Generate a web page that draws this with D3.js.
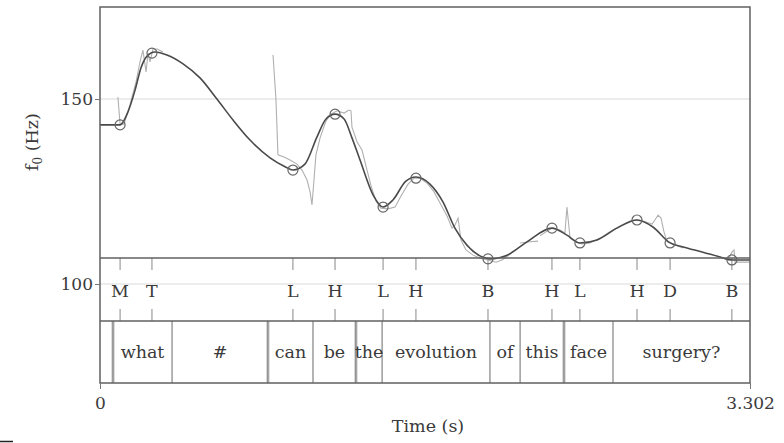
<!DOCTYPE html>
<html>
<head>
<meta charset="utf-8">
<script src="https://cdn.jsdelivr.net/npm/d3@7/dist/d3.min.js"></script>
<style>
  html, body { margin: 0; padding: 0; background: #fff; }
  svg { display: block; }
  text { font-family: "DejaVu Serif", "Liberation Serif", serif; fill: #3a3a3a; }
</style>
</head>
<body>
<svg id="chart" width="784" height="443"></svg>
<script>
// Stylised f0 contour (time in s, f0 in Hz)
const contourTime = [0, 0.051, 0.102, 0.142, 0.178, 0.208, 0.239, 0.279, 0.340, 0.422, 0.508, 0.594, 0.676, 0.762, 0.864, 0.940, 0.980, 1.041, 1.102, 1.148, 1.194, 1.240, 1.280, 1.321, 1.387, 1.438, 1.488, 1.554, 1.605, 1.676, 1.742, 1.803, 1.864, 1.930, 1.981, 2.068, 2.169, 2.296, 2.372, 2.438, 2.525, 2.626, 2.728, 2.809, 2.896, 2.962, 3.063, 3.150, 3.210, 3.302];
const contourHz   = [143.0, 143.0, 143.0, 146.5, 152.4, 158.4, 161.6, 162.7, 161.9, 159.5, 155.7, 150.0, 144.3, 138.9, 134.1, 131.7, 130.8, 132.4, 139.7, 144.6, 145.9, 144.6, 139.5, 133.5, 124.1, 120.8, 122.7, 127.8, 128.9, 127.0, 122.2, 115.1, 110.5, 107.6, 106.8, 107.8, 111.4, 115.1, 113.2, 111.1, 111.9, 115.1, 117.3, 115.4, 111.1, 110.0, 108.6, 107.3, 106.5, 106.5];

// Measured f0 track, one array per voiced stretch
const rawTime = [
  [0.091, 0.102, 0.122, 0.152, 0.183, 0.203, 0.218, 0.234, 0.244, 0.254, 0.269, 0.290, 0.320],
  [0.879, 0.894, 0.904, 0.935, 0.965, 1.001, 1.026, 1.052, 1.067, 1.077, 1.087, 1.097, 1.118, 1.148, 1.173, 1.204, 1.240, 1.265, 1.275, 1.280, 1.306, 1.331, 1.351, 1.377, 1.402, 1.427, 1.463, 1.499, 1.529, 1.565, 1.595, 1.626, 1.661, 1.697, 1.732, 1.763, 1.788, 1.803, 1.819, 1.834, 1.859, 1.895, 1.930, 1.971, 2.012, 2.042, 2.073, 2.098],
  [2.134, 2.184, 2.225],
  [2.235, 2.266, 2.296, 2.337, 2.362, 2.372, 2.388, 2.418, 2.449, 2.489, 2.540, 2.591, 2.642, 2.692, 2.733, 2.769, 2.804, 2.819, 2.835, 2.850, 2.865, 2.880, 2.911, 2.962],
  [3.150, 3.190, 3.210, 3.221, 3.226, 3.302]
];
const rawHz = [
  [150.5, 143.2, 143.2, 148.4, 154.6, 160.0, 163.2, 157.3, 162.4, 160.0, 163.5, 163.5, 162.7],
  [161.9, 149.7, 134.9, 134.3, 133.5, 132.4, 130.8, 128.1, 124.9, 121.4, 128.1, 134.9, 139.5, 144.1, 145.9, 146.8, 146.2, 147.0, 146.8, 142.4, 138.4, 136.2, 131.9, 126.5, 122.4, 120.5, 120.3, 120.8, 123.8, 127.0, 128.6, 128.6, 127.3, 124.9, 121.4, 118.4, 115.1, 115.9, 117.8, 111.9, 109.2, 107.8, 107.0, 106.5, 105.9, 106.5, 107.6, 108.9],
  [111.1, 111.4, 111.6],
  [113.0, 114.1, 115.1, 114.6, 113.8, 120.8, 112.4, 111.4, 110.8, 111.1, 112.4, 114.1, 115.7, 117.0, 117.3, 116.8, 116.2, 117.3, 118.6, 117.8, 114.1, 111.6, 110.8, 109.7],
  [107.3, 106.5, 108.6, 109.2, 105.9, 105.9]
];

// Tonal targets and their labels
const toneTime  = [0.102, 0.264, 0.980, 1.194, 1.438, 1.605, 1.971, 2.296, 2.438, 2.728, 2.896, 3.210];
const toneHz    = [143.0, 162.4, 130.8, 145.9, 120.8, 128.6, 106.8, 115.1, 111.1, 117.3, 111.1, 106.5];
const toneLabel = ["M", "T", "L", "H", "L", "H", "B", "H", "L", "H", "D", "B"];

// Word tier
const wordStart = [0.066, 0.366, 0.853, 1.082, 1.300, 1.433, 1.981, 2.134, 2.357, 2.606];
const wordEnd   = [0.366, 0.853, 1.082, 1.300, 1.433, 1.981, 2.134, 2.357, 2.606, 3.302];
const wordText  = ["what", "#", "can", "be", "the", "evolution", "of", "this", "face", "surgery?"];

const yTicks = [100, 150];
const xTicks = [0, 3.302];
const totalDuration = 3.302;

// ---- layout ----
const plotLeft = 100, plotRight = 750, plotTop = 7, plotBottom = 383;
const pitchBottom = 258, toneBottom = 321;

const svg = d3.select("#chart");
const x = d3.scaleLinear().domain([0, totalDuration]).range([plotLeft, plotRight]);
const y = d3.scaleLinear().domain([100, 150]).range([284, 99]);

// horizontal grid lines
svg.append("g").selectAll("line").data(yTicks).join("line")
  .attr("x1", plotLeft).attr("x2", plotRight)
  .attr("y1", d => y(d)).attr("y2", d => y(d))
  .attr("stroke", "#e6e6e6").attr("stroke-width", 1.5);

// word boundaries (some drawn doubled)
const thickBounds = new Set([0.066, 0.853, 1.300, 2.357]);
const bounds = wordStart.slice();
svg.append("g").selectAll("line").data(bounds.filter(d => thickBounds.has(d))).join("line")
  .attr("x1", d => x(d)).attr("x2", d => x(d))
  .attr("y1", toneBottom).attr("y2", plotBottom)
  .attr("stroke", "#d2d2d2").attr("stroke-width", 3.5);
svg.append("g").selectAll("line").data(bounds).join("line")
  .attr("x1", d => x(d)).attr("x2", d => x(d))
  .attr("y1", toneBottom).attr("y2", plotBottom)
  .attr("stroke", "#6a6a6a").attr("stroke-width", 1);

// word labels
svg.append("g").selectAll("text").data(wordText).join("text")
  .attr("x", (d, i) => x((wordStart[i] + wordEnd[i]) / 2))
  .attr("y", 358)
  .attr("text-anchor", "middle")
  .attr("font-size", 17.5)
  .text(d => d);

// tone tier: ticks and labels
const toneG = svg.append("g");
toneG.selectAll("line.tt").data(toneTime).join("line").attr("class", "tt")
  .attr("x1", d => x(d)).attr("x2", d => x(d))
  .attr("y1", pitchBottom).attr("y2", pitchBottom + 12)
  .attr("stroke", "#888").attr("stroke-width", 1);
toneG.selectAll("line.tb").data(toneTime).join("line").attr("class", "tb")
  .attr("x1", d => x(d)).attr("x2", d => x(d))
  .attr("y1", toneBottom - 12).attr("y2", toneBottom)
  .attr("stroke", "#888").attr("stroke-width", 1);
toneG.selectAll("text").data(toneLabel).join("text")
  .attr("x", (d, i) => x(toneTime[i]))
  .attr("y", 297)
  .attr("text-anchor", "middle")
  .attr("font-size", 17.5)
  .text(d => d);

// measured f0
const rawLine = d3.line().x(d => x(d[0])).y(d => y(d[1]));
svg.append("g").selectAll("path").data(rawTime.map((ts, i) => ts.map((t, j) => [t, rawHz[i][j]]))).join("path")
  .attr("d", rawLine)
  .attr("fill", "none")
  .attr("stroke", "#b0b0b0")
  .attr("stroke-width", 1.1);

// stylised contour
const contour = contourTime.map((t, i) => [t, contourHz[i]]);
svg.append("path")
  .attr("d", d3.line().x(d => x(d[0])).y(d => y(d[1])).curve(d3.curveMonotoneX)(contour))
  .attr("fill", "none")
  .attr("stroke", "#4a4a4a")
  .attr("stroke-width", 1.6);

// target circles
svg.append("g").selectAll("circle").data(toneTime).join("circle")
  .attr("cx", d => x(d))
  .attr("cy", (d, i) => y(toneHz[i]))
  .attr("r", 5)
  .attr("fill", "none")
  .attr("stroke", "#666")
  .attr("stroke-width", 1.2);

// frame and tier separators
const frame = svg.append("g").attr("stroke", "#606060").attr("stroke-width", 1.5).attr("fill", "none");
frame.append("rect").attr("x", plotLeft).attr("y", plotTop).attr("width", plotRight - plotLeft).attr("height", plotBottom - plotTop);
frame.append("line").attr("x1", plotLeft).attr("x2", plotRight).attr("y1", pitchBottom).attr("y2", pitchBottom);
frame.append("line").attr("x1", plotLeft).attr("x2", plotRight).attr("y1", toneBottom).attr("y2", toneBottom);

// axes
const yAxis = svg.append("g").attr("transform", `translate(${plotLeft},0)`)
  .call(d3.axisLeft(y).tickValues(yTicks).tickSize(5).tickPadding(2).tickFormat(d3.format("d")));
yAxis.select(".domain").remove();
yAxis.selectAll("line").attr("stroke", "#777");
yAxis.selectAll("text").attr("font-size", 17).attr("font-family", "DejaVu Serif").attr("fill", "#3a3a3a");

const xAxis = svg.append("g").attr("transform", `translate(0,${plotBottom})`)
  .call(d3.axisBottom(x).tickValues(xTicks).tickSize(6).tickPadding(8).tickFormat(d => d === 0 ? "0" : d3.format(".3f")(d)));
xAxis.select(".domain").remove();
xAxis.selectAll("line").attr("stroke", "#777");
xAxis.selectAll("text").attr("font-size", 17).attr("font-family", "DejaVu Serif").attr("fill", "#3a3a3a");

// axis titles
svg.append("text")
  .attr("x", (plotLeft + plotRight) / 2 + 3).attr("y", 432)
  .attr("text-anchor", "middle").attr("font-size", 17.5)
  .text("Time (s)");

const yt = svg.append("text")
  .attr("transform", "translate(38,142) rotate(-90)")
  .attr("text-anchor", "middle").attr("font-size", 17.5);
yt.append("tspan").text("f");
yt.append("tspan").attr("font-size", 12).attr("dy", 4).text("0");
yt.append("tspan").attr("dy", -4).text(" (Hz)");

// small mark at the lower-left corner
svg.append("line").attr("x1", 0).attr("x2", 13).attr("y1", 441.5).attr("y2", 441.5)
  .attr("stroke", "#222").attr("stroke-width", 1.5);
</script>
</body>
</html>
